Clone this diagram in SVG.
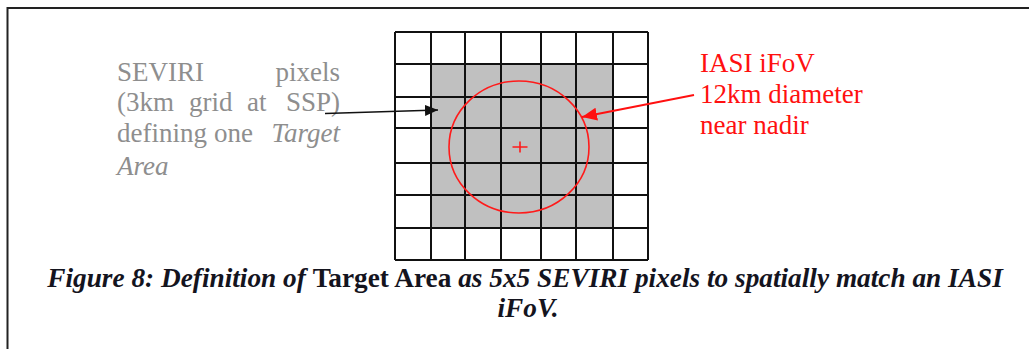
<svg xmlns="http://www.w3.org/2000/svg" width="1029" height="349" viewBox="0 0 1029 349">
  <style>
    text { font-family: 'Liberation Serif', 'DejaVu Serif', serif; }
    .grid { stroke: #111; stroke-width: 2; fill: none; }
    .gray { font-size: 27px; fill: #8e8e8e; }
    .red { font-size: 27px; fill: #ff1010; }
    .cap { font-size: 27.3px; fill: #14141e; font-weight: bold; font-style: italic; }
    .it { font-style: italic; }
  </style>
  <defs>
    <marker id="ahBlack" markerWidth="13" markerHeight="11" refX="13" refY="5.5" orient="auto" markerUnits="userSpaceOnUse">
      <path d="M0,0 L13,5.5 L0,11 Z" fill="#111"/>
    </marker>
    <marker id="ahRed" markerWidth="15" markerHeight="13" refX="15" refY="6.5" orient="auto" markerUnits="userSpaceOnUse">
      <path d="M0,0 L15,6.5 L0,13 Z" fill="#ff1010"/>
    </marker>
  </defs>
  <rect width="1029" height="349" fill="#fff"/>
  <g id="frame">
    <path d="M7.5,349 L7.5,8 L1029,8" fill="none" stroke="#222" stroke-width="2"/>
  </g>
  <g id="grid">
    <rect x="431" y="64" width="182" height="164" fill="#c0c0c0"/>
    <path class="grid" d="M395,32V260 M431,32V260 M465,32V260 M501,32V260 M541,32V260 M576,32V260 M613,32V260 M648,32V260 M395,32H648 M395,64H648 M395,97H648 M395,128H648 M395,163H648 M395,195H648 M395,228H648 M395,260H648"/>
  </g>
  <g id="iasi-fov">
    <ellipse cx="519" cy="147" rx="70" ry="66" fill="none" stroke="#ff1a1a" stroke-width="1.6"/>
    <path d="M512.5,147 H527.5 M520,141.5 V152.5" stroke="#ff1a1a" stroke-width="1.6"/>
  </g>
  <g id="seviri-label">
    <text class="gray" x="117" y="81">SEVIRI</text>
    <text class="gray" x="340" y="81" text-anchor="end">pixels</text>
    <text class="gray" x="117" y="110.5">(3km</text>
    <text class="gray" x="189" y="110.5">grid</text>
    <text class="gray" x="247" y="110.5">at</text>
    <text class="gray" x="340" y="110.5" text-anchor="end">SSP)</text>
    <text class="gray" x="117" y="141.5">defining</text>
    <text class="gray" x="214" y="141.5">one</text>
    <text class="gray it" x="340" y="141.5" text-anchor="end">Target</text>
    <text class="gray it" x="117" y="175">Area</text>
  </g>
  <g id="iasi-label">
    <text class="red" x="700" y="71.5">IASI iFoV</text>
    <text class="red" x="700" y="103">12km diameter</text>
    <text class="red" x="700" y="133.5">near nadir</text>
  </g>
  <g id="connectors">
    <line x1="325" y1="113.5" x2="438" y2="110" stroke="#111" stroke-width="1.6" marker-end="url(#ahBlack)"/>
    <line x1="694" y1="95" x2="582" y2="117" stroke="#ff1010" stroke-width="1.8" marker-end="url(#ahRed)"/>
  </g>
  <g id="caption">
    <text class="cap" x="525" y="287" text-anchor="middle">Figure 8: Definition of <tspan font-style="normal">Target Area</tspan> as 5x5 SEVIRI pixels to spatially match an IASI</text>
    <text class="cap" x="528" y="317" text-anchor="middle">iFoV.</text>
  </g>
</svg>
